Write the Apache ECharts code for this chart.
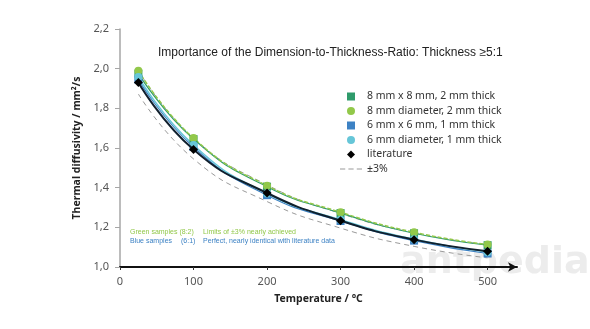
<!DOCTYPE html>
<html>
<head>
<meta charset="utf-8">
<script src="https://cdn.jsdelivr.net/npm/echarts@6/dist/echarts.min.js"></script>
<style>
  html, body { margin: 0; padding: 0; background: #fff; }
  #chart { width: 590px; height: 329px; }
</style>
</head>
<body>
<div id="chart"></div>
<script>
// Measurement temperatures (°C)
const temps = [25, 100, 200, 300, 400, 500];

// Thermal diffusivity (mm²/s) per sample geometry
const square8 = [1.975, 1.645, 1.405, 1.272, 1.17, 1.11];
const circle8 = [1.99, 1.65, 1.41, 1.276, 1.175, 1.113];
const square6 = [1.945, 1.605, 1.362, 1.232, 1.133, 1.068];
const circle6 = [1.958, 1.615, 1.37, 1.238, 1.14, 1.075];
const literature = [1.93, 1.592, 1.373, 1.233, 1.138, 1.08];
const upper3 = [1.99, 1.65, 1.414, 1.27, 1.172, 1.112];
const lower3 = [1.872, 1.545, 1.33, 1.196, 1.104, 1.046];

// Axis ticks
const xTicks = [0, 100, 200, 300, 400, 500];
const yTicks = [1.0, 1.2, 1.4, 1.6, 1.8, 2.0, 2.2];

const names = [
  '8 mm x 8 mm, 2 mm thick',
  '8 mm diameter, 2 mm thick',
  '6 mm x 6 mm, 1 mm thick',
  '6 mm diameter, 1 mm thick',
  'literature',
  '±3%'
];

const pair = arr => arr.map((v, i) => [temps[i], v]);

const SQUARE = 'path://M0,0H10V10H0Z';
const DIAMOND = 'path://M5,0L10,5L5,10L0,5Z';
const DASHES = 'path://M0,0H5V1H0Z M8,0H13V1H8Z M16,0H21V1H16Z';

const chart = echarts.init(document.getElementById('chart'), null, { renderer: 'canvas' });

const option = {
  backgroundColor: '#ffffff',
  animation: false,
  title: {
    text: 'Importance of the Dimension-to-Thickness-Ratio: Thickness ≥5:1',
    left: 153,
    top: 42,
    textStyle: { fontFamily: 'Liberation Sans', fontSize: 12, fontWeight: 'normal', color: '#222' }
  },
  legend: {
    orient: 'vertical',
    left: 335,
    top: 86,
    itemWidth: 22,
    itemHeight: 8,
    itemGap: 3.5,
    symbolKeepAspect: true,
    textStyle: { fontFamily: 'Noto Sans', fontSize: 10.5, lineHeight: 11, color: '#333' },
    data: [
      { name: names[0], icon: SQUARE },
      { name: names[1], icon: 'circle' },
      { name: names[2], icon: SQUARE },
      { name: names[3], icon: 'circle' },
      { name: names[4], icon: DIAMOND },
      { name: names[5], icon: DASHES }
    ]
  },
  grid: { left: 120, top: 29, right: 73, bottom: 62, containLabel: false },
  xAxis: {
    type: 'value',
    min: 0,
    max: 540,
    interval: 100,
    name: 'Temperature / °C',
    nameLocation: 'middle',
    nameGap: 27,
    nameTextStyle: { fontFamily: 'Noto Sans', fontSize: 10.5, fontWeight: 'bold', color: '#222' },
    axisLine: {
      onZero: false,
      lineStyle: { color: '#111', width: 2 },
      symbol: ['none', 'arrow'],
      symbolSize: [7, 9]
    },
    axisTick: { show: true, length: 3, customValues: xTicks, lineStyle: { color: '#333' } },
    axisLabel: {
      customValues: xTicks,
      margin: 9,
      fontFamily: 'Noto Sans', fontSize: 11, color: '#555'
    },
    splitLine: { show: false }
  },
  yAxis: {
    type: 'value',
    min: 1.0,
    max: 2.2,
    interval: 0.2,
    name: 'Thermal diffusivity / mm²/s',
    nameLocation: 'middle',
    nameGap: 30,
    nameTextStyle: { fontFamily: 'Noto Sans', fontSize: 10.5, fontWeight: 'bold', color: '#222' },
    axisLine: { show: true, lineStyle: { color: '#a6a6a6', width: 1.5 } },
    axisTick: { show: true, length: 5, customValues: yTicks, lineStyle: { color: '#a6a6a6' } },
    axisLabel: {
      customValues: yTicks,
      margin: 11,
      fontFamily: 'Noto Sans', fontSize: 11, color: '#555',
      formatter: v => v.toFixed(1).replace('.', ',')
    },
    splitLine: { show: false }
  },
  series: [
    {
      name: names[5], type: 'line', smooth: true, symbol: 'none', z: 1,
      data: pair(upper3),
      lineStyle: { color: '#9a9a9a', width: 1, type: [5, 4] },
      itemStyle: { color: '#9a9a9a' }
    },
    {
      name: names[5], type: 'line', smooth: true, symbol: 'none', z: 1,
      data: pair(lower3),
      lineStyle: { color: '#9a9a9a', width: 1, type: [5, 4] },
      itemStyle: { color: '#9a9a9a' }
    },
    {
      name: names[0], type: 'line', smooth: true, symbol: 'rect', symbolSize: 8, z: 3,
      data: pair(square8),
      lineStyle: { color: '#2f9b6b', width: 1.2 },
      itemStyle: { color: '#2f9b6b' }
    },
    {
      name: names[1], type: 'line', smooth: true, symbol: 'circle', symbolSize: 8, z: 3,
      data: pair(circle8),
      lineStyle: { color: '#92c84a', width: 1.5, type: [4, 2] },
      itemStyle: { color: '#92c84a' }
    },
    {
      name: names[2], type: 'line', smooth: true, symbol: 'rect', symbolSize: 8, z: 3,
      data: pair(square6),
      lineStyle: { color: '#3d82c4', width: 1.2 },
      itemStyle: { color: '#3d82c4' }
    },
    {
      name: names[3], type: 'line', smooth: true, symbol: 'circle', symbolSize: 8, z: 3,
      data: pair(circle6),
      lineStyle: { color: '#66c6d8', width: 1.5 },
      itemStyle: { color: '#66c6d8' }
    },
    {
      name: names[4], type: 'line', smooth: true, symbol: 'diamond', symbolSize: 9, z: 4,
      data: pair(literature),
      lineStyle: { color: '#10202e', width: 2 },
      itemStyle: { color: '#000000' }
    }
  ],
  graphic: [
    {
      type: 'text', left: 130, top: 229, z: 5,
      style: { text: 'Green samples (8:2)', fill: '#92c84a', font: '7px "Liberation Sans"' }
    },
    {
      type: 'text', left: 203, top: 229, z: 5,
      style: { text: 'Limits of ±3% nearly achieved', fill: '#92c84a', font: '7px "Liberation Sans"' }
    },
    {
      type: 'text', left: 130, top: 238, z: 5,
      style: { text: 'Blue samples', fill: '#3d82c4', font: '7px "Liberation Sans"' }
    },
    {
      type: 'text', left: 181, top: 238, z: 5,
      style: { text: '(6:1)', fill: '#3d82c4', font: '7px "Liberation Sans"' }
    },
    {
      type: 'text', left: 203, top: 238, z: 5,
      style: { text: 'Perfect, nearly identical with literature data', fill: '#3d82c4', font: '7px "Liberation Sans"' }
    },
    {
      type: 'text', left: 400, top: 244, z: 0, silent: true,
      style: {
        text: 'antpedia',
        fill: 'rgba(200,200,200,0.35)',
        font: 'bold 38px "DejaVu Sans"',
        shadowBlur: 5, shadowColor: 'rgba(180,180,180,0.4)'
      }
    }
  ]
};

chart.setOption(option);
</script>
</body>
</html>
